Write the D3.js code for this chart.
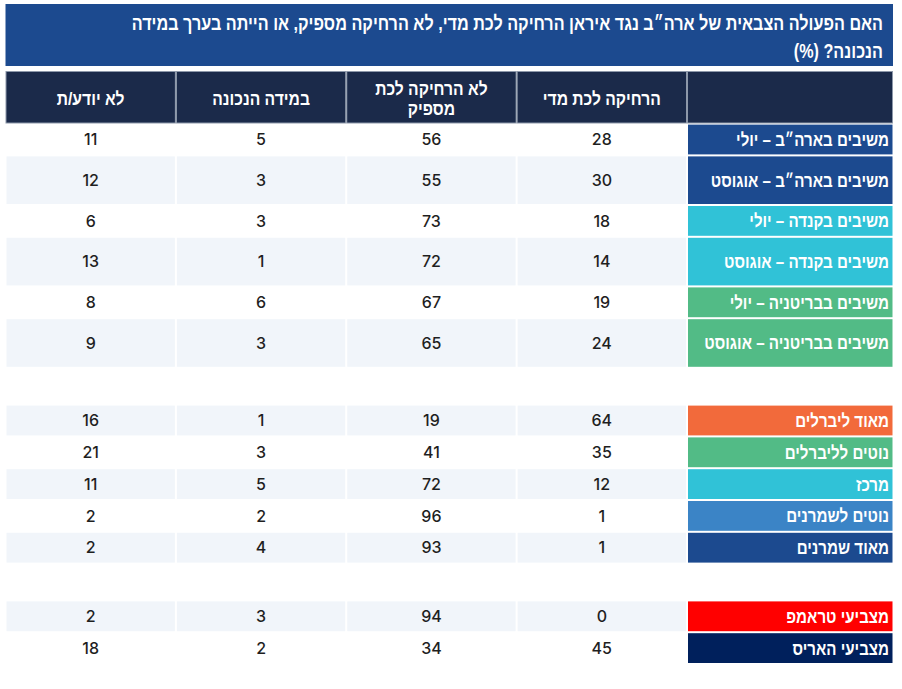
<!DOCTYPE html>
<html lang="he">
<head>
<meta charset="utf-8">
<script src="https://cdn.jsdelivr.net/npm/d3@7/dist/d3.min.js"></script>
<style>
  html, body { margin: 0; padding: 0; background: #ffffff; }
  svg { display: block; }
</style>
</head>
<body>
<svg id="chart" width="902" height="689"></svg>
<script>
// ---------------- DATA ----------------
const titleLines = [
  "האם הפעולה הצבאית של ארה״ב נגד איראן הרחיקה לכת מדי, לא הרחיקה מספיק, או הייתה בערך במידה",
  "הנכונה? (%)"
];
// columns, right to left after the label column
const columnHeaders = [
  ["הרחיקה לכת מדי"],
  ["לא הרחיקה לכת", "מספיק"],
  ["במידה הנכונה"],
  ["לא יודע/ת"]
];
const categories = [
  "משיבים בארה״ב – יולי",
  "משיבים בארה״ב – אוגוסט",
  "משיבים בקנדה – יולי",
  "משיבים בקנדה – אוגוסט",
  "משיבים בבריטניה – יולי",
  "משיבים בבריטניה – אוגוסט",
  null,
  "מאוד ליברלים",
  "נוטים לליברלים",
  "מרכז",
  "נוטים לשמרנים",
  "מאוד שמרנים",
  null,
  "מצביעי טראמפ",
  "מצביעי האריס"
];
const wentTooFar   = [28, 30, 18, 14, 19, 24, null, 64, 35, 12, 1, 1, null, 0, 45];
const notFarEnough = [56, 55, 73, 72, 67, 65, null, 19, 41, 72, 96, 93, null, 94, 34];
const aboutRight   = [5, 3, 3, 1, 6, 3, null, 1, 3, 5, 2, 4, null, 3, 2];
const dontKnow     = [11, 12, 6, 13, 8, 9, null, 16, 21, 11, 2, 2, null, 2, 18];

// ---------------- STYLE / LAYOUT ----------------
const categoryColors = [
  "#1c4a8f", "#1c4a8f", "#30c2d7", "#30c2d7", "#52bb86", "#52bb86", null,
  "#f26a3b", "#52bb86", "#30c2d7", "#3b84c6", "#1c4a8f", null,
  "#ff0000", "#00205c"
];
const rowKind = ["s", "t", "s", "t", "s", "t", "gap", "s", "s", "s", "s", "s", "gap", "s", "s"];
const rowPitch = { s: 31.8, t: 49.6, gap: 36.8 };
const cellGap = 2;

const series = [wentTooFar, notFarEnough, aboutRight, dontKnow];

const svg = d3.select("#chart");

const tableLeft = 5.5, tableRight = 893, labelLeft = 687;
const titleTop = 4, titleBottom = 66;
const headTop = 71.5, headBottom = 123;
const bodyTop = 124.6;

const hebFont = "'Liberation Sans', 'DejaVu Sans', sans-serif";
const numFont = "Inter, 'Open Sans', sans-serif";

// column band scale (visual order left->right: dontKnow, aboutRight, notFarEnough, wentTooFar)
const colOrder = [3, 2, 1, 0];
const x = d3.scaleBand().domain(colOrder).range([tableLeft, labelLeft]).paddingInner(0).paddingOuter(0);

// row positions
const offsets = [];
let acc = bodyTop;
rowKind.forEach(k => { offsets.push(acc); acc += rowPitch[k]; });
const yTop = i => offsets[i];
const yH = i => rowPitch[rowKind[i]] - cellGap;

// ---------------- TITLE ----------------
svg.append("rect")
  .attr("x", tableLeft).attr("y", titleTop)
  .attr("width", tableRight - tableLeft).attr("height", titleBottom - titleTop)
  .attr("fill", "#1c4a8f");

const titleRight = 883;
titleLines.forEach((line, i) => {
  const g = svg.append("g")
    .attr("transform", `translate(${titleRight},${i === 0 ? 30 : 58}) scale(0.83,1)`);
  g.append("text")
    .attr("x", 0).attr("y", 0)
    .attr("direction", "rtl")
    .attr("text-anchor", "start")
    .attr("font-family", hebFont)
    .attr("font-weight", "bold")
    .attr("font-size", 19.5)
    .attr("fill", "#ffffff")
    .text(line);
});

// ---------------- HEADER ----------------
const headG = svg.append("g");
headG.append("rect")
  .attr("x", labelLeft + 0.5).attr("y", headTop)
  .attr("width", tableRight - labelLeft - 1).attr("height", headBottom - headTop)
  .attr("fill", "#1b2a4a").attr("stroke", "#8d98aa").attr("stroke-width", 1);

columnHeaders.forEach((lines, c) => {
  const x0 = x(c);
  headG.append("rect")
    .attr("x", x0 + 0.5).attr("y", headTop)
    .attr("width", x.bandwidth() - 1).attr("height", headBottom - headTop)
    .attr("fill", "#1b2a4a").attr("stroke", "#8d98aa").attr("stroke-width", 1);
  const cx = x0 + x.bandwidth() / 2;
  const cy = (headTop + headBottom) / 2 + 1;
  const lh = 20;
  lines.forEach((ln, j) => {
    const yy = cy + (j - (lines.length - 1) / 2) * lh;
    headG.append("g")
      .attr("transform", `translate(${cx},${yy}) scale(0.87,1)`)
      .append("text")
      .attr("direction", "rtl")
      .attr("text-anchor", "middle")
      .attr("dy", "0.36em")
      .attr("font-family", hebFont)
      .attr("font-weight", "bold")
      .attr("font-size", 18)
      .attr("fill", "#ffffff")
      .text(ln);
  });
});

// ---------------- BODY ----------------
const rows = categories.map((c, i) => ({ i, c })).filter(d => d.c !== null);

const rowG = svg.append("g").selectAll("g.row")
  .data(rows).join("g").attr("class", "row");

rowG.each(function(d) {
  const g = d3.select(this);
  const shaded = d.i % 2 === 1;
  colOrder.forEach(c => {
    g.append("rect")
      .attr("x", x(c) + cellGap / 2).attr("y", yTop(d.i))
      .attr("width", x.bandwidth() - cellGap).attr("height", yH(d.i))
      .attr("fill", shaded ? "#f1f5fa" : "#ffffff");
    g.append("text")
      .attr("x", x(c) + x.bandwidth() / 2)
      .attr("y", yTop(d.i) + yH(d.i) / 2)
      .attr("dy", "0.36em")
      .attr("text-anchor", "middle")
      .attr("font-family", numFont)
      .attr("font-weight", 500)
      .attr("font-size", 16)
      .attr("fill", "#1f1f1f")
      .text(series[c][d.i]);
  });
  g.append("rect")
    .attr("x", labelLeft + cellGap / 2).attr("y", yTop(d.i))
    .attr("width", tableRight - labelLeft - cellGap / 2 - 0.5).attr("height", yH(d.i))
    .attr("fill", categoryColors[d.i]);
  g.append("g")
    .attr("transform", `translate(889,${yTop(d.i) + yH(d.i) / 2}) scale(0.84,1)`)
    .append("text")
    .attr("dy", "0.36em")
    .attr("direction", "rtl")
    .attr("text-anchor", "start")
    .attr("font-family", hebFont)
    .attr("font-weight", "bold")
    .attr("font-size", 18)
    .attr("fill", "#ffffff")
    .text(d.c);
});
</script>
</body>
</html>
